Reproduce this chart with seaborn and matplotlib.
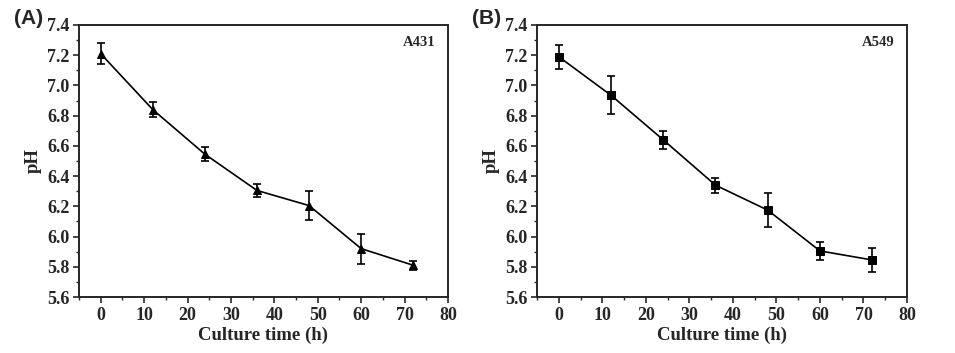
import numpy as np
import pandas as pd
import seaborn as sns
import matplotlib.pyplot as plt

# Data
time_h = [0, 12, 24, 36, 48, 60, 72]
ph_a431 = [7.21, 6.84, 6.545, 6.305, 6.205, 5.92, 5.81]
err_a431 = [0.07, 0.05, 0.045, 0.045, 0.095, 0.10, 0.03]
ph_a549 = [7.19, 6.935, 6.64, 6.34, 6.175, 5.905, 5.845]
err_a549 = [0.08, 0.125, 0.06, 0.05, 0.11, 0.06, 0.078]

sns.set_style("ticks")
plt.rcParams['font.family'] = ['Liberation Serif', 'DejaVu Serif']
plt.rcParams['font.weight'] = 'bold'

fig = plt.figure(figsize=(9.55, 3.53), dpi=100)
ax_a = fig.add_axes([79 / 955, 1 - 297 / 353, 369 / 955, 272 / 353])
ax_b = fig.add_axes([537 / 955, 1 - 297 / 353, 370 / 955, 272 / 353])

panels = [(ax_a, ph_a431, err_a431, '^', 'A431', '(A)'),
          (ax_b, ph_a549, err_a549, 's', 'A549', '(B)')]

for ax, ph, err, marker, cell, tag in panels:
    df = pd.DataFrame({'time': time_h, 'pH': ph})
    ax.errorbar(time_h, ph, yerr=err, fmt='none', ecolor='black',
                elinewidth=1.2, capsize=3, capthick=1.2, zorder=2)
    sns.lineplot(data=df, x='time', y='pH', ax=ax, color='black',
                 marker=marker, markersize=6, linewidth=1.2,
                 markeredgecolor='black', zorder=3)
    ax.set_xlim(-5, 80)
    ax.set_ylim(5.6, 7.4)
    ax.set_xticks(np.arange(0, 81, 10))
    ax.set_xticks(np.arange(-5, 81, 5), minor=True)
    ax.set_yticks(np.arange(5.6, 7.41, 0.2))
    ax.set_yticks(np.arange(5.6, 7.41, 0.1), minor=True)
    ax.set_yticklabels([f'{v:.1f}' for v in np.arange(5.6, 7.41, 0.2)])
    ax.tick_params(axis='both', which='major', direction='out', length=4,
                   width=1.2, labelsize=13, pad=3)
    ax.tick_params(axis='both', which='minor', direction='out', length=2.5,
                   width=1.0)
    for lbl in ax.get_xticklabels() + ax.get_yticklabels():
        lbl.set_fontweight('bold')
    for side in ['top', 'right', 'left', 'bottom']:
        ax.spines[side].set_visible(True)
        ax.spines[side].set_linewidth(1.4)
    ax.set_xlabel('Culture time (h)', fontsize=13.5, fontweight='bold', labelpad=2)
    ax.set_ylabel('pH', fontsize=13.5, fontweight='bold', labelpad=4)
    ax.text(0.965, 0.934, cell, transform=ax.transAxes, ha='right', va='center',
            fontsize=10.5, fontweight='bold')
    ax.text(-0.176, 1.025, tag, transform=ax.transAxes, ha='left', va='center',
            fontsize=15, fontweight='bold', family=['Liberation Sans', 'DejaVu Sans'])

fig.savefig('out.png', dpi=100)
